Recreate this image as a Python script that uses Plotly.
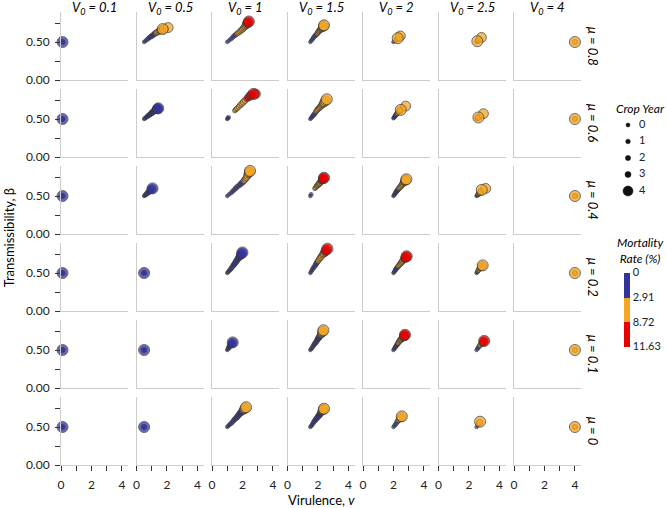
import numpy as np
import plotly.graph_objects as go

# ---------------- data ----------------
V0_LEVELS = [0.1, 0.5, 1, 1.5, 2, 2.5, 4]
V0_LABELS = ["0.1", "0.5", "1", "1.5", "2", "2.5", "4"]
MU_LEVELS = [0.8, 0.6, 0.4, 0.2, 0.1, 0]
MU_LABELS = ["0.8", "0.6", "0.4", "0.2", "0.1", "0"]
CROP_YEARS = [0, 1, 2, 3, 4]
MORT_BREAKS = [0, 2.91, 8.72, 11.63]
X_TICKS = [0, 2, 4]
X_MINOR_TICKS = [1, 3]
Y_TICKS = [0, 0.5]
Y_TICK_TEXT = ["0.00", "0.50"]
Y_MINOR_TICKS = [0.25, 0.75]

# trajectories per panel: (crop year, virulence v, transmissibility beta, mortality %)
MU_08 = [
    [(0, 0.10, 0.50, 0.3), (2, 0.10, 0.50, 0.3), (4, 0.10, 0.50, 0.3)],
    [(0, 0.50, 0.50, 0.2), (0.25, 0.59, 0.515, 0.5), (0.5, 0.68, 0.53, 0.8), (0.75, 0.77, 0.545, 1.1),
     (1, 0.85, 0.56, 1.5), (1.25, 0.94, 0.57, 1.8), (1.5, 1.02, 0.58, 2.0), (1.75, 1.11, 0.595, 2.3),
     (2, 1.20, 0.61, 2.6), (2.25, 1.29, 0.62, 3.0), (2.5, 1.38, 0.63, 3.3), (2.75, 1.47, 0.64, 3.6),
     (3, 1.55, 0.65, 4.0), (3.25, 1.66, 0.66, 4.4), (3.5, 1.80, 0.67, 4.8), (3.75, 2.08, 0.69, 5.0),
     (4, 1.72, 0.67, 4.9)],
    [(0, 1.00, 0.50, 0.5), (0.25, 1.12, 0.52, 0.8), (0.5, 1.25, 0.54, 1.2), (0.75, 1.35, 0.56, 1.7),
     (1, 1.45, 0.58, 2.2), (1.25, 1.55, 0.595, 2.9), (1.5, 1.65, 0.61, 3.5), (1.75, 1.75, 0.625, 4.0),
     (2, 1.85, 0.64, 4.5), (2.25, 1.93, 0.655, 5.0), (2.5, 2.00, 0.67, 5.5), (2.75, 2.08, 0.685, 6.2),
     (3, 2.15, 0.70, 7.0), (3.25, 2.22, 0.72, 8.0), (3.5, 2.30, 0.74, 8.9), (3.75, 2.36, 0.755, 9.4),
     (4, 2.42, 0.77, 9.8)],
    [(0, 1.50, 0.50, 0.5), (0.25, 1.57, 0.52, 0.8), (0.5, 1.65, 0.54, 1.2), (0.75, 1.72, 0.56, 1.6),
     (1, 1.80, 0.58, 2.0), (1.25, 1.88, 0.595, 2.6), (1.5, 1.95, 0.61, 3.2), (1.75, 2.00, 0.625, 3.6),
     (2, 2.05, 0.64, 4.0), (2.25, 2.10, 0.65, 4.2), (2.5, 2.15, 0.66, 4.5), (2.75, 2.20, 0.67, 4.8),
     (3, 2.25, 0.68, 5.0), (3.25, 2.29, 0.69, 5.2), (3.5, 2.33, 0.70, 5.5), (3.75, 2.37, 0.71, 5.7),
     (4, 2.40, 0.72, 5.8)],
    [(0, 2.00, 0.50, 0.8), (1, 2.15, 0.52, 3.0), (2, 2.25, 0.54, 4.0), (3, 2.32, 0.55, 4.5), (3.75, 2.45, 0.58, 4.6),
     (4, 2.28, 0.55, 4.5)],
    [(0, 2.50, 0.50, 3.5), (1, 2.55, 0.51, 4.0), (2, 2.60, 0.52, 4.5), (3, 2.65, 0.53, 4.8), (3.75, 2.82, 0.56, 5.0),
     (4, 2.55, 0.51, 4.8)],
    [(0, 4.00, 0.50, 5.0), (2, 4.00, 0.50, 5.0), (4, 4.00, 0.50, 5.0)],
]
MU_06 = [
    [(0, 0.10, 0.50, 0.3), (2, 0.10, 0.50, 0.3), (4, 0.10, 0.50, 0.3)],
    [(0, 0.50, 0.50, 0.2), (0.25, 0.56, 0.51, 0.3), (0.5, 0.62, 0.52, 0.4), (0.75, 0.69, 0.53, 0.5),
     (1, 0.75, 0.54, 0.6), (1.25, 0.82, 0.55, 0.7), (1.5, 0.88, 0.56, 0.8), (1.75, 0.94, 0.57, 0.9),
     (2, 1.00, 0.58, 1.0), (2.25, 1.06, 0.59, 1.1), (2.5, 1.12, 0.60, 1.2), (2.75, 1.19, 0.61, 1.3),
     (3, 1.25, 0.62, 1.4), (3.25, 1.30, 0.625, 1.5), (3.5, 1.35, 0.63, 1.6), (3.75, 1.39, 0.635, 1.7),
     (4, 1.43, 0.64, 1.8)],
    [(0, 1.00, 0.50, 0.5), (0.25, 1.04, 0.51, 0.6), (0.5, 1.08, 0.52, 0.8), (1, 1.50, 0.61, 3.5),
     (1.25, 1.57, 0.625, 4.0), (1.5, 1.65, 0.64, 4.5), (1.75, 1.75, 0.66, 5.0), (2, 1.85, 0.68, 5.5),
     (2.25, 1.95, 0.70, 6.0), (2.5, 2.05, 0.72, 6.5), (2.75, 2.17, 0.745, 7.8), (3, 2.30, 0.77, 9.0),
     (3.25, 2.42, 0.79, 9.5), (3.5, 2.55, 0.81, 10.0), (3.75, 2.85, 0.83, 10.5), (4, 2.72, 0.83, 10.5)],
    [(0, 1.50, 0.50, 0.5), (0.25, 1.56, 0.515, 0.7), (0.5, 1.62, 0.53, 1.0), (0.75, 1.68, 0.545, 1.4),
     (1, 1.75, 0.56, 1.8), (1.25, 1.82, 0.58, 2.5), (1.5, 1.88, 0.60, 3.2), (1.75, 1.94, 0.615, 3.6),
     (2, 2.00, 0.63, 4.0), (2.25, 2.08, 0.645, 4.2), (2.5, 2.15, 0.66, 4.5), (2.75, 2.22, 0.675, 4.8),
     (3, 2.28, 0.69, 5.0), (3.25, 2.35, 0.705, 5.2), (3.5, 2.42, 0.72, 5.5), (3.75, 2.50, 0.74, 5.8),
     (4, 2.58, 0.76, 6.0)],
    [(0, 2.00, 0.51, 1.0), (0.25, 2.04, 0.52, 1.4), (0.5, 2.08, 0.53, 1.8), (0.75, 2.13, 0.545, 2.2),
     (1, 2.18, 0.56, 2.5), (1.25, 2.23, 0.57, 3.0), (1.5, 2.28, 0.58, 3.5), (2, 2.38, 0.60, 4.0),
     (2.5, 2.42, 0.61, 4.2), (3, 2.45, 0.62, 4.5), (3.75, 2.80, 0.67, 4.8), (4, 2.48, 0.62, 4.6)],
    [(0, 2.50, 0.50, 3.5), (1, 2.55, 0.51, 4.0), (2, 2.60, 0.52, 4.3), (3, 2.63, 0.52, 4.5), (3.75, 2.95, 0.57, 4.7),
     (4, 2.62, 0.52, 4.5)],
    [(0, 4.00, 0.50, 5.0), (2, 4.00, 0.50, 5.0), (4, 4.00, 0.50, 5.0)],
]
MU_04 = [
    [(0, 0.10, 0.50, 0.3), (2, 0.10, 0.50, 0.3), (4, 0.10, 0.50, 0.3)],
    [(0, 0.50, 0.50, 0.2), (0.5, 0.56, 0.51, 0.3), (1, 0.62, 0.52, 0.4), (1.5, 0.70, 0.535, 0.5), (2, 0.78, 0.55, 0.6),
     (2.5, 0.85, 0.565, 0.7), (3, 0.92, 0.58, 0.8), (3.5, 1.00, 0.59, 0.9), (4, 1.05, 0.60, 1.0)],
    [(0, 1.00, 0.50, 0.5), (0.25, 1.12, 0.52, 0.7), (0.5, 1.25, 0.54, 0.9), (0.75, 1.35, 0.56, 1.1),
     (1, 1.45, 0.58, 1.3), (1.25, 1.55, 0.60, 1.5), (1.5, 1.65, 0.62, 1.8), (1.75, 1.78, 0.64, 2.1),
     (2, 1.90, 0.66, 2.4), (2.25, 2.00, 0.68, 2.9), (2.5, 2.10, 0.70, 3.5), (2.75, 2.18, 0.72, 4.2),
     (3, 2.25, 0.74, 5.0), (3.25, 2.33, 0.77, 5.5), (3.5, 2.40, 0.80, 6.0), (3.75, 2.45, 0.815, 6.2),
     (4, 2.50, 0.83, 6.5)],
    [(0, 1.50, 0.50, 0.5), (0.5, 1.55, 0.52, 1.0), (1, 1.80, 0.60, 3.5), (1.25, 1.86, 0.615, 4.0),
     (1.5, 1.92, 0.63, 4.5), (1.75, 1.97, 0.64, 5.0), (2, 2.02, 0.65, 5.5), (2.25, 2.07, 0.66, 6.2),
     (2.5, 2.12, 0.67, 7.0), (2.75, 2.17, 0.685, 8.0), (3, 2.22, 0.70, 9.0), (3.25, 2.27, 0.71, 9.5),
     (3.5, 2.32, 0.72, 10.0), (3.75, 2.36, 0.73, 10.2), (4, 2.40, 0.74, 10.5)],
    [(0, 2.00, 0.50, 0.6), (0.25, 2.05, 0.515, 0.9), (0.5, 2.10, 0.53, 1.2), (0.75, 2.15, 0.545, 1.5),
     (1, 2.20, 0.56, 1.8), (1.25, 2.26, 0.575, 2.2), (1.5, 2.32, 0.59, 2.6), (1.75, 2.38, 0.605, 3.0),
     (2, 2.45, 0.62, 3.5), (2.25, 2.51, 0.635, 3.8), (2.5, 2.57, 0.65, 4.0), (2.75, 2.62, 0.665, 4.2),
     (3, 2.67, 0.68, 4.5), (3.25, 2.72, 0.69, 4.8), (3.5, 2.77, 0.70, 5.0), (3.75, 2.81, 0.71, 5.1),
     (4, 2.85, 0.72, 5.2)],
    [(0, 2.50, 0.50, 2.0), (0.5, 2.55, 0.51, 2.6), (1, 2.60, 0.52, 3.2), (1.5, 2.65, 0.53, 3.6), (2, 2.70, 0.54, 4.0),
     (2.5, 2.75, 0.55, 4.2), (3, 2.80, 0.56, 4.3), (3.75, 3.10, 0.60, 4.5), (4, 2.84, 0.58, 4.4)],
    [(0, 4.00, 0.50, 5.0), (2, 4.00, 0.50, 5.0), (4, 4.00, 0.50, 5.0)],
]
MU_02 = [
    [(0, 0.10, 0.50, 0.3), (2, 0.10, 0.50, 0.3), (4, 0.10, 0.50, 0.3)],
    [(0, 0.50, 0.50, 0.3), (2, 0.50, 0.50, 0.3), (4, 0.50, 0.50, 0.3)],
    [(0, 1.00, 0.50, 0.3), (0.25, 1.06, 0.515, 0.4), (0.5, 1.13, 0.53, 0.5), (0.75, 1.20, 0.545, 0.6),
     (1, 1.26, 0.56, 0.7), (1.25, 1.33, 0.58, 0.8), (1.5, 1.40, 0.60, 0.9), (1.75, 1.46, 0.615, 1.0),
     (2, 1.52, 0.63, 1.1), (2.25, 1.58, 0.65, 1.25), (2.5, 1.65, 0.67, 1.4), (2.75, 1.72, 0.69, 1.55),
     (3, 1.78, 0.71, 1.7), (3.25, 1.84, 0.725, 1.85), (3.5, 1.90, 0.74, 2.0), (3.75, 1.95, 0.755, 2.2),
     (4, 2.00, 0.77, 2.4)],
    [(0, 1.50, 0.50, 0.5), (0.25, 1.56, 0.52, 0.7), (0.5, 1.62, 0.54, 1.0), (0.75, 1.68, 0.56, 1.3),
     (1, 1.75, 0.58, 1.6), (1.25, 1.82, 0.60, 1.9), (1.5, 1.88, 0.62, 2.3), (1.75, 1.94, 0.64, 2.7),
     (2, 2.00, 0.66, 3.2), (2.25, 2.08, 0.68, 3.8), (2.5, 2.15, 0.70, 4.5), (2.75, 2.22, 0.72, 5.5),
     (3, 2.30, 0.74, 6.5), (3.25, 2.39, 0.76, 7.8), (3.5, 2.48, 0.78, 9.0), (3.75, 2.55, 0.80, 9.5),
     (4, 2.62, 0.82, 10.0)],
    [(0, 2.00, 0.50, 0.6), (0.25, 2.05, 0.515, 0.9), (0.5, 2.10, 0.53, 1.2), (0.75, 2.15, 0.545, 1.6),
     (1, 2.20, 0.56, 2.0), (1.25, 2.26, 0.575, 2.5), (1.5, 2.32, 0.59, 3.0), (1.75, 2.38, 0.605, 3.5),
     (2, 2.45, 0.62, 4.0), (2.25, 2.51, 0.635, 4.8), (2.5, 2.57, 0.65, 5.5), (2.75, 2.62, 0.665, 6.5),
     (3, 2.68, 0.68, 7.5), (3.25, 2.73, 0.69, 8.2), (3.5, 2.78, 0.70, 9.0), (3.75, 2.83, 0.71, 9.5),
     (4, 2.87, 0.72, 10.0)],
    [(0, 2.50, 0.50, 1.5), (0.5, 2.55, 0.515, 2.2), (1, 2.60, 0.53, 3.2), (1.5, 2.65, 0.545, 3.6),
     (2, 2.70, 0.56, 4.0), (2.5, 2.76, 0.57, 4.2), (3, 2.82, 0.58, 4.5), (3.5, 2.86, 0.59, 4.6),
     (4, 2.90, 0.60, 4.8)],
    [(0, 4.00, 0.50, 5.0), (2, 4.00, 0.50, 5.0), (4, 4.00, 0.50, 5.0)],
]
MU_01 = [
    [(0, 0.10, 0.50, 0.3), (2, 0.10, 0.50, 0.3), (4, 0.10, 0.50, 0.3)],
    [(0, 0.50, 0.50, 0.3), (2, 0.50, 0.50, 0.3), (4, 0.50, 0.50, 0.3)],
    [(0, 1.00, 0.50, 0.3), (0.5, 1.05, 0.515, 0.4), (1, 1.10, 0.53, 0.5), (1.5, 1.15, 0.545, 0.6),
     (2, 1.20, 0.56, 0.7), (2.5, 1.25, 0.57, 0.8), (3, 1.30, 0.58, 0.9), (3.5, 1.33, 0.59, 0.95),
     (4, 1.36, 0.60, 1.0)],
    [(0, 1.50, 0.50, 0.4), (0.25, 1.56, 0.515, 0.6), (0.5, 1.62, 0.53, 0.8), (0.75, 1.68, 0.55, 1.0),
     (1, 1.74, 0.57, 1.2), (1.25, 1.80, 0.585, 1.4), (1.5, 1.86, 0.60, 1.6), (1.75, 1.92, 0.62, 1.8),
     (2, 1.98, 0.64, 2.0), (2.25, 2.03, 0.655, 2.2), (2.5, 2.08, 0.67, 2.5), (2.75, 2.13, 0.685, 2.8),
     (3, 2.18, 0.70, 3.2), (3.25, 2.23, 0.715, 3.6), (3.5, 2.28, 0.73, 4.0), (3.75, 2.32, 0.745, 4.2),
     (4, 2.36, 0.76, 4.5)],
    [(0, 2.00, 0.50, 0.6), (0.25, 2.05, 0.515, 0.9), (0.5, 2.10, 0.53, 1.3), (0.75, 2.15, 0.545, 1.7),
     (1, 2.20, 0.56, 2.2), (1.25, 2.25, 0.575, 2.7), (1.5, 2.30, 0.59, 3.2), (1.75, 2.35, 0.605, 3.8),
     (2, 2.40, 0.62, 4.5), (2.25, 2.45, 0.63, 5.2), (2.5, 2.50, 0.64, 6.0), (2.75, 2.55, 0.65, 6.8),
     (3, 2.60, 0.66, 7.5), (3.25, 2.65, 0.67, 8.2), (3.5, 2.70, 0.68, 9.0), (3.75, 2.73, 0.69, 9.5),
     (4, 2.76, 0.70, 10.0)],
    [(0, 2.50, 0.50, 0.8), (0.5, 2.57, 0.52, 1.6), (1, 2.64, 0.54, 2.4), (1.5, 2.72, 0.56, 3.5), (2, 2.80, 0.58, 5.0),
     (2.5, 2.87, 0.59, 6.5), (3, 2.93, 0.60, 8.0), (3.5, 2.97, 0.61, 9.0), (4, 3.00, 0.62, 10.0)],
    [(0, 4.00, 0.50, 5.0), (2, 4.00, 0.50, 5.0), (4, 4.00, 0.50, 5.0)],
]
MU_00 = [
    [(0, 0.10, 0.50, 0.3), (2, 0.10, 0.50, 0.3), (4, 0.10, 0.50, 0.3)],
    [(0, 0.50, 0.50, 0.3), (2, 0.50, 0.50, 0.3), (4, 0.50, 0.50, 0.3)],
    [(0, 1.00, 0.50, 0.3), (0.25, 1.07, 0.515, 0.45), (0.5, 1.15, 0.53, 0.6), (0.75, 1.24, 0.545, 0.75),
     (1, 1.32, 0.56, 0.9), (1.25, 1.40, 0.58, 1.05), (1.5, 1.48, 0.60, 1.2), (1.75, 1.57, 0.615, 1.4),
     (2, 1.65, 0.63, 1.6), (2.25, 1.72, 0.65, 1.8), (2.5, 1.80, 0.67, 2.0), (2.75, 1.88, 0.685, 2.25),
     (3, 1.95, 0.70, 2.5), (3.25, 2.02, 0.715, 2.8), (3.5, 2.10, 0.73, 3.2), (3.75, 2.17, 0.745, 3.5),
     (4, 2.24, 0.76, 3.8)],
    [(0, 1.50, 0.50, 0.3), (0.25, 1.56, 0.515, 0.45), (0.5, 1.62, 0.53, 0.6), (0.75, 1.68, 0.55, 0.75),
     (1, 1.74, 0.57, 0.9), (1.25, 1.80, 0.585, 1.05), (1.5, 1.86, 0.60, 1.2), (1.75, 1.92, 0.615, 1.4),
     (2, 1.98, 0.63, 1.6), (2.25, 2.04, 0.645, 1.8), (2.5, 2.10, 0.66, 2.0), (2.75, 2.15, 0.675, 2.25),
     (3, 2.20, 0.69, 2.5), (3.25, 2.25, 0.705, 2.8), (3.5, 2.30, 0.72, 3.1), (3.75, 2.35, 0.73, 3.3),
     (4, 2.40, 0.74, 3.6)],
    [(0, 2.00, 0.50, 0.8), (0.5, 2.08, 0.52, 1.5), (1, 2.16, 0.54, 2.2), (1.5, 2.25, 0.57, 2.8), (2, 2.33, 0.59, 3.3),
     (2.5, 2.40, 0.61, 3.6), (3, 2.47, 0.62, 3.9), (3.5, 2.52, 0.63, 4.1), (4, 2.55, 0.64, 4.2)],
    [(0, 2.50, 0.50, 2.0), (1, 2.60, 0.53, 3.2), (2, 2.66, 0.55, 3.6), (3, 2.70, 0.56, 3.8), (4, 2.73, 0.57, 3.9)],
    [(0, 4.00, 0.50, 5.0), (2, 4.00, 0.50, 5.0), (4, 4.00, 0.50, 5.0)],
]
ROWS = [MU_08, MU_06, MU_04, MU_02, MU_01, MU_00]

# ---------------- style ----------------
W, H = 667, 508
FONT = "Lato, 'Open Sans', sans-serif"
MORT_COLORS = ["#333399", "#F5A623", "#E60000"]
SIZE_BY_YEAR = [3.5, 4.5, 5.4, 6.4, 11.0]   # marker diameter for crop years 0..4
LEGEND_SIZES = [4.0, 4.6, 5.2, 6.0, 10.0]   # legend key diameters for crop years 0..4
PLOT_LEFT, COL_PITCH, PANEL_W = 61.0, 75.5, 67.0
ZERO_TOP, ROW_PITCH, PANEL_H = 80.0, 77.0, 68.4
X_RANGE = [0, 4.4]
Y_RANGE = [0, 0.9]
AXIS_GRAY = "#cccccc"
TICK_COLOR = "#333333"


def mort_color(m):
    idx = int(np.searchsorted(MORT_BREAKS[1:-1], m, side="right"))
    return MORT_COLORS[idx]


def px_x(px):
    return px / W


def px_y(py):
    return 1 - py / H


fig = go.Figure()
layout = dict(
    width=W, height=H, margin=dict(l=0, r=0, t=0, b=0, autoexpand=False),
    paper_bgcolor="white", plot_bgcolor="white",
    font=dict(family=FONT, size=12, color="#000"),
    showlegend=False,
)

nrows, ncols = len(MU_LEVELS), len(V0_LEVELS)
for r in range(nrows):
    for c in range(ncols):
        k = r * ncols + c + 1
        xa = "xaxis" if k == 1 else f"xaxis{k}"
        ya = "yaxis" if k == 1 else f"yaxis{k}"
        xref = "x" if k == 1 else f"x{k}"
        yref = "y" if k == 1 else f"y{k}"
        x0 = PLOT_LEFT + c * COL_PITCH
        yb = ZERO_TOP + r * ROW_PITCH
        bottom = r == nrows - 1
        left = c == 0
        xa_d = dict(
            domain=[px_x(x0), px_x(x0 + PANEL_W)], anchor=yref, range=X_RANGE,
            showgrid=False, zeroline=False, showline=True, linecolor=AXIS_GRAY, linewidth=1,
            showticklabels=bottom, fixedrange=True,
        )
        if bottom:
            xa_d.update(
                tickmode="array", tickvals=X_TICKS, ticks="outside", ticklen=5, tickwidth=1,
                tickcolor=TICK_COLOR, tickfont=dict(size=12, color="#222"), ticklabelstandoff=4,
                minor=dict(tickmode="array", tickvals=X_MINOR_TICKS, ticks="outside", ticklen=5,
                           tickwidth=1, tickcolor=TICK_COLOR, showgrid=False),
            )
        else:
            xa_d.update(ticks="", tickvals=[])
        ya_d = dict(
            domain=[px_y(yb), px_y(yb - PANEL_H)], anchor=xref, range=Y_RANGE,
            showgrid=False, zeroline=False, showline=True, linecolor=AXIS_GRAY, linewidth=1,
            showticklabels=left, fixedrange=True,
        )
        if left:
            ya_d.update(
                tickmode="array", tickvals=Y_TICKS, ticktext=Y_TICK_TEXT, ticks="outside", ticklen=5,
                tickwidth=1, tickcolor=TICK_COLOR, tickfont=dict(size=12, color="#222"), ticklabelstandoff=3,
                minor=dict(tickmode="array", tickvals=Y_MINOR_TICKS, ticks="outside", ticklen=5,
                           tickwidth=1, tickcolor=TICK_COLOR, showgrid=False),
            )
        else:
            ya_d.update(ticks="", tickvals=[])
        layout[xa] = xa_d
        layout[ya] = ya_d

        traj = ROWS[r][c]
        yrs = [p[0] for p in traj]
        vs = [p[1] for p in traj]
        bs = [p[2] for p in traj]
        ms = [p[3] for p in traj]
        fig.add_trace(go.Scatter(
            x=vs, y=bs, xaxis=xref, yaxis=yref, mode="markers", cliponaxis=False,
            marker=dict(
                size=list(np.interp(yrs, CROP_YEARS, SIZE_BY_YEAR)),
                color=[mort_color(m) for m in ms],
                opacity=0.74,
                line=dict(color="rgb(58,58,58)", width=1),
            ),
            showlegend=False, hoverinfo="skip",
        ))

# ---- crop-year size legend, drawn on its own hidden axes ----
kL = nrows * ncols + 1
LEG_TOP, LEG_BOTTOM = 125.0, 191.0
layout[f"xaxis{kL}"] = dict(domain=[px_x(622), px_x(662)], range=[-6, 34], visible=False,
                            anchor=f"y{kL}", fixedrange=True)
layout[f"yaxis{kL}"] = dict(domain=[px_y(LEG_BOTTOM), px_y(LEG_TOP)],
                            range=[CROP_YEARS[-1], CROP_YEARS[0]], visible=False,
                            anchor=f"x{kL}", fixedrange=True)
fig.add_trace(go.Scatter(
    x=[0] * len(CROP_YEARS), y=CROP_YEARS, xaxis=f"x{kL}", yaxis=f"y{kL}", mode="markers",
    cliponaxis=False,
    marker=dict(size=LEGEND_SIZES, color="#111111", opacity=1,
                line=dict(color="#111111", width=0.5)),
    showlegend=False, hoverinfo="skip",
))
fig.add_trace(go.Scatter(
    x=[11] * len(CROP_YEARS), y=CROP_YEARS, xaxis=f"x{kL}", yaxis=f"y{kL}", mode="text",
    text=[str(y) for y in CROP_YEARS], textposition="middle right", cliponaxis=False,
    textfont=dict(size=11, color="#222"), showlegend=False, hoverinfo="skip",
))

# ---- mortality colour legend (threshold bands, equal height) ----
n = len(MORT_COLORS)
cscale = []
for i, col in enumerate(reversed(MORT_COLORS)):
    cscale += [[i / n, col], [(i + 1) / n, col]]
fig.add_trace(go.Scatter(
    x=[None], y=[None], mode="markers", showlegend=False, hoverinfo="skip",
    marker=dict(
        color=[0], cmin=0, cmax=n, colorscale=cscale, showscale=True,
        colorbar=dict(
            thickness=6, len=74, lenmode="pixels", x=px_x(624), xanchor="left", xpad=0,
            y=px_y(272.5), yanchor="top", ypad=0, outlinewidth=0,
            tickvals=list(range(n + 1)),
            ticktext=[f"{b:g}" for b in reversed(MORT_BREAKS)],
            ticks="", tickfont=dict(size=11, color="#222"),
        ),
    ),
))

ann = []
for c, lab in enumerate(V0_LABELS):
    ann.append(dict(
        text=f"<i>V<sub>0</sub> = {lab}</i>", x=px_x(PLOT_LEFT + c * COL_PITCH + PANEL_W / 2), y=px_y(8),
        xref="paper", yref="paper", showarrow=False, font=dict(size=13), xanchor="center", yanchor="middle",
    ))
for r, lab in enumerate(MU_LABELS):
    ann.append(dict(
        text=f"<i>μ = {lab}</i>", x=px_x(593), y=px_y(ZERO_TOP + r * ROW_PITCH - PANEL_H / 2),
        xref="paper", yref="paper", showarrow=False, font=dict(size=13), textangle=90,
        xanchor="center", yanchor="middle",
    ))
ann.append(dict(
    text="Transmissibility, β", x=px_x(9), y=px_y((ZERO_TOP - PANEL_H + ZERO_TOP + (nrows - 1) * ROW_PITCH) / 2),
    xref="paper", yref="paper", showarrow=False, textangle=-90, font=dict(size=13),
    xanchor="center", yanchor="middle",
))
ann.append(dict(
    text="Virulence, <i>v</i>", x=px_x(PLOT_LEFT + ((ncols - 1) * COL_PITCH + PANEL_W) / 2), y=px_y(500),
    xref="paper", yref="paper", showarrow=False, font=dict(size=13), xanchor="center", yanchor="middle",
))
ann.append(dict(
    text="<i>Crop Year</i>", x=px_x(640), y=px_y(108),
    xref="paper", yref="paper", showarrow=False, font=dict(size=12), xanchor="center", yanchor="middle",
))
ann.append(dict(
    text="<i>Mortality</i><br><i>Rate (%)</i>", x=px_x(640), y=px_y(250),
    xref="paper", yref="paper", showarrow=False, font=dict(size=12), xanchor="center", yanchor="middle",
    align="center",
))
layout["annotations"] = ann

fig.update_layout(**layout)
fig.write_html("out.html", post_script="document.body.style.margin='0px';",
               config={"displayModeBar": False})
